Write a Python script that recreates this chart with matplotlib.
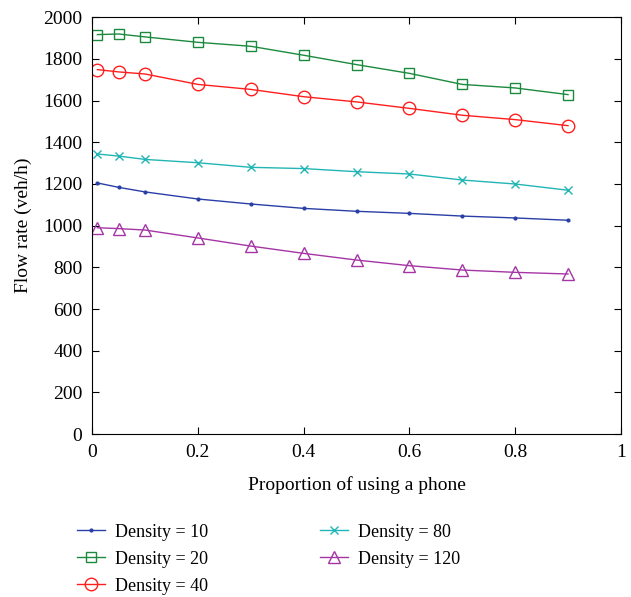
import matplotlib
matplotlib.use("Agg")
import matplotlib.pyplot as plt

plt.rcParams['font.family'] = ['Liberation Serif', 'DejaVu Serif']

# proportion of drivers using a phone
prop = [0.01, 0.05, 0.1, 0.2, 0.3, 0.4, 0.5, 0.6, 0.7, 0.8, 0.9]

d10 = [1205, 1184, 1162, 1128, 1104, 1083, 1069, 1059, 1046, 1037, 1026]
d20 = [1917, 1920, 1906, 1880, 1861, 1818, 1773, 1731, 1678, 1661, 1629]
d40 = [1749, 1738, 1728, 1678, 1654, 1619, 1594, 1563, 1530, 1509, 1480]
d80 = [1344, 1334, 1318, 1302, 1280, 1274, 1259, 1248, 1219, 1200, 1170]
d120 = [990, 986, 979, 941, 902, 867, 835, 808, 787, 776, 768]

fig = plt.figure(figsize=(6.31, 5.97), dpi=100)
ax = fig.add_axes([0.146, 0.273, 0.838, 0.698])

ax.plot(prop, d10, color='#2a3fa6', marker='.', markersize=4, lw=1, label='Density = 10')
ax.plot(prop, d20, color='#1b8a3e', marker='s', markersize=7, mfc='none', lw=1, label='Density = 20')
ax.plot(prop, d40, color='#ff1e1e', marker='o', markersize=9, mfc='none', lw=1, label='Density = 40')
ax.plot(prop, d80, color='#22b5b5', marker='x', markersize=6, lw=1, label='Density = 80')
ax.plot(prop, d120, color='#a535a5', marker='^', markersize=9, mfc='none', lw=1, label='Density = 120')

ax.set_xlim(0, 1)
ax.set_ylim(0, 2000)
ax.set_xticks([0, 0.2, 0.4, 0.6, 0.8, 1])
ax.set_xticklabels(['0', '0.2', '0.4', '0.6', '0.8', '1'])
ax.set_yticks(range(0, 2001, 200))
ax.tick_params(direction='in', top=True, right=True, labelsize=14, length=5, pad=7)
ax.set_xlabel('Proportion of using a phone', fontsize=14, labelpad=11)
ax.set_ylabel('Flow rate (veh/h)', fontsize=14, labelpad=8)

fig.legend(loc='lower left', bbox_to_anchor=(0.111, -0.008), ncol=2, frameon=False,
           fontsize=13, handlelength=1.55, handletextpad=0.55, columnspacing=6.2,
           labelspacing=0.55, borderaxespad=0)

fig.savefig('out.png', dpi=100)
